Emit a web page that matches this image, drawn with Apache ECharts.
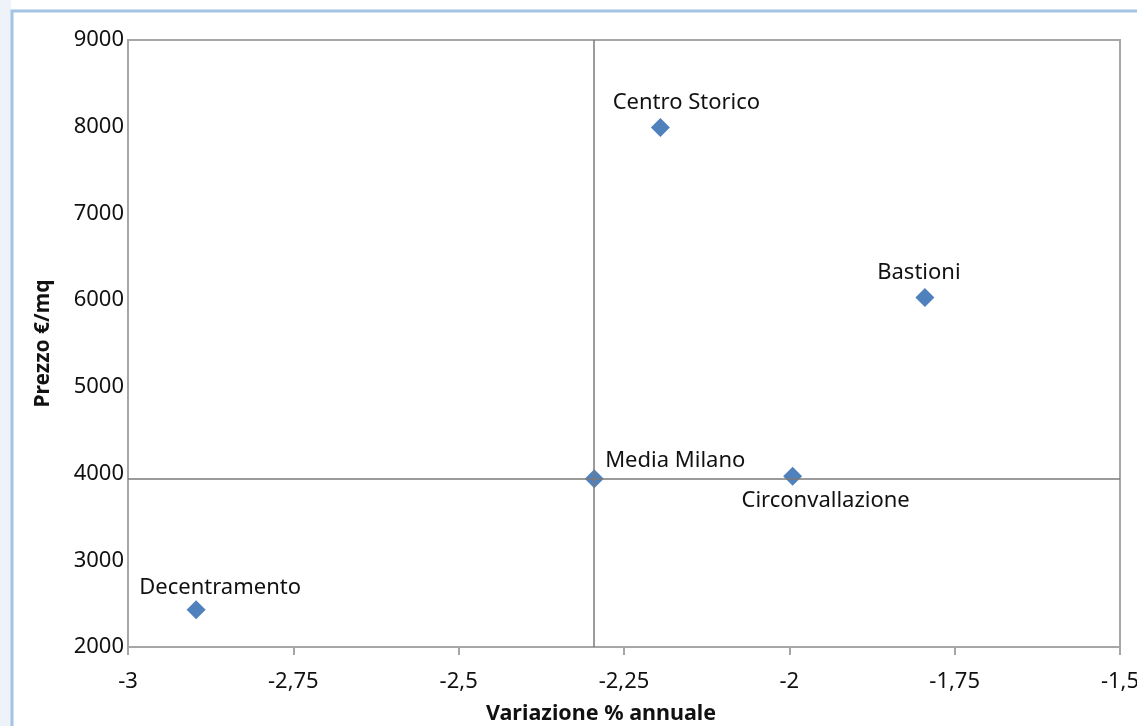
<!DOCTYPE html>
<html>
<head>
<meta charset="utf-8">
<script src="https://cdn.jsdelivr.net/npm/echarts@6/dist/echarts.min.js"></script>
<style>
  html, body { margin: 0; padding: 0; background: #fff; }
  #chart { width: 1137px; height: 726px; }
</style>
</head>
<body>
<div id="chart"></div>
<script>
  // zone names and values
  var zones = ['Centro Storico', 'Bastioni', 'Media Milano', 'Circonvallazione', 'Decentramento']
  var variation = [-2.195, -1.795, -2.295, -1.995, -2.897]
  var price = [7990, 6030, 3940, 3970, 2430]
  var xTicks = [-3, -2.75, -2.5, -2.25, -2, -1.75, -1.5]
  var yTicks = [2000, 3000, 4000, 5000, 6000, 7000, 8000, 9000]
  // axes cross at the city average
  var crossIndex = 2

  // where each label sits around its point (as placed by hand in the original)
  var labelPos = {
    'Centro Storico': [26, -25],
    'Bastioni': [-6, -25],
    'Media Milano': [81, -18],
    'Circonvallazione': [33, 25],
    'Decentramento': [24, -22]
  }

  var font = '"Noto Sans", sans-serif'
  var chart = echarts.init(document.getElementById('chart'))

  var points = zones.map(function (name, i) {
    return {
      name: name,
      value: [variation[i], price[i]],
      label: {
        show: true,
        position: 'inside',
        offset: labelPos[name],
        formatter: name
      }
    }
  })

  var fmt = function (v) { return String(v).replace('.', ',') }

  var option = {
    backgroundColor: '#ffffff',
    animation: false,
    graphic: [
      {
        type: 'rect',
        shape: { x: 0, y: 0, width: 11, height: 726 },
        style: { fill: '#eef3f9' },
        silent: true
      },
      {
        type: 'rect',
        shape: { x: 12, y: 11, width: 1140, height: 730 },
        style: { fill: 'none', stroke: '#a3c4e3', lineWidth: 3 },
        silent: true
      }
    ],
    grid: {
      left: 128,
      right: 17,
      top: 40,
      bottom: 79,
      outerBoundsMode: 'none',
      containLabel: false,
      show: true,
      borderColor: '#a6a6a6',
      borderWidth: 2,
      backgroundColor: 'transparent'
    },
    xAxis: {
      type: 'value',
      min: xTicks[0],
      max: xTicks[xTicks.length - 1],
      interval: 0.25,
      name: 'Variazione % annuale',
      nameLocation: 'middle',
      nameGap: 56,
      nameTextStyle: { fontFamily: font, fontWeight: 'bold', fontSize: 21.5, color: '#111', padding: [0, 46, 0, 0] },
      axisLine: { onZero: false, lineStyle: { color: '#a6a6a6', width: 2 } },
      axisTick: { show: true, length: 8, lineStyle: { color: '#a6a6a6', width: 2 } },
      axisLabel: { formatter: fmt, fontFamily: font, fontSize: 22, color: '#111', margin: 24 },
      splitLine: { show: false }
    },
    yAxis: {
      type: 'value',
      min: yTicks[0],
      max: yTicks[yTicks.length - 1],
      interval: 1000,
      name: 'Prezzo €/mq',
      nameLocation: 'middle',
      nameGap: 74,
      nameTextStyle: { fontFamily: font, fontWeight: 'bold', fontSize: 21, color: '#111' },
      axisLine: { onZero: false, lineStyle: { color: '#a6a6a6', width: 2 } },
      axisTick: { show: false },
      axisLabel: { formatter: function (v) { return String(v) }, fontFamily: font, fontSize: 22, color: '#111', margin: 4 },
      splitLine: { show: false }
    },
    series: [{
      name: 'Zone',
      type: 'scatter',
      symbol: 'diamond',
      symbolSize: 19,
      itemStyle: { color: '#4f81bd', opacity: 1 },
      label: { fontFamily: font, fontSize: 22, color: '#111' },
      data: points,
      z: 3,
      markLine: {
        silent: true,
        symbol: 'none',
        precision: 4,
        label: { show: false },
        lineStyle: { color: '#7a7a7a', width: 1.5, type: 'solid' },
        data: [
          { xAxis: variation[crossIndex] },
          { yAxis: price[crossIndex] }
        ]
      }
    }]
  }
  chart.setOption(option)
  window.onresize = function () {
    chart.resize()
  }
</script>
</body>
</html>
